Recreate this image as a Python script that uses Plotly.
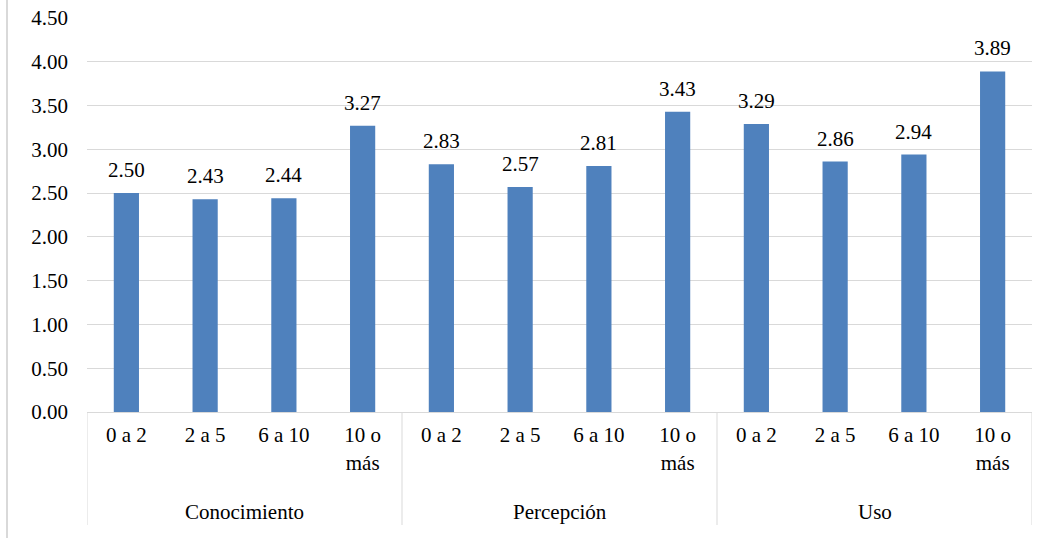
import plotly.graph_objects as go

groups = ["Conocimiento", "Percepción", "Uso"]
ranges = ["0 a 2", "2 a 5", "6 a 10", "10 o<br>más"]
values = [2.50, 2.43, 2.44, 3.27, 2.83, 2.57, 2.81, 3.43, 3.29, 2.86, 2.94, 3.89]
y_ticks = [0, 0.5, 1.0, 1.5, 2.0, 2.5, 3.0, 3.5, 4.0, 4.5]

FONT = "'Liberation Serif', 'DejaVu Serif', serif"
GRID = "#d9d9d9"
FS = 21

n_per = len(ranges)
xpos = list(range(len(values)))
tick_text = ranges * len(groups)

# plot-area geometry in pixels (for placing elements below the axis)
H_PLOT = 394
B_MARG = 126

def py(px_below_axis):
    """paper y for a point px_below_axis pixels under the x axis"""
    return -px_below_axis / H_PLOT

fig = go.Figure()
fig.add_trace(go.Bar(
    x=xpos, y=values,
    marker=dict(color="#4f81bd", line=dict(width=0)),
    width=0.32, hoverinfo="skip",
))

for i, v in enumerate(values):
    fig.add_annotation(
        x=i, y=v, text=f"{v:.2f}", showarrow=False,
        yanchor="bottom", yshift=9,
        font=dict(family=FONT, size=FS, color="#000000"),
    )

shapes = []
# group dividers under the axis
for g in range(len(groups) + 1):
    xb = g * n_per - 0.5
    shapes.append(dict(type="line", xref="x", yref="paper",
                       x0=xb, x1=xb, y0=0, y1=py(113),
                       line=dict(color=GRID, width=1)))
# group labels
for g, name in enumerate(groups):
    fig.add_annotation(
        x=g * n_per + (n_per - 1) / 2, y=py(100), xref="x", yref="paper",
        text=name, showarrow=False, yanchor="middle",
        font=dict(family=FONT, size=FS, color="#000000"),
    )
# outer border on the left edge of the chart
shapes.append(dict(type="line", xref="paper", yref="paper",
                   x0=-80 / 945, x1=-80 / 945, y0=py(B_MARG), y1=1 + 18 / H_PLOT,
                   line=dict(color=GRID, width=2)))

fig.update_layout(
    width=1055, height=538,
    margin=dict(l=87, r=23, t=18, b=B_MARG, autoexpand=False),
    paper_bgcolor="white", plot_bgcolor="white",
    showlegend=False,
    font=dict(family=FONT, size=FS, color="#000000"),
    shapes=shapes,
)
fig.update_xaxes(
    range=[-0.5, len(values) - 0.5],
    tickvals=xpos, ticktext=tick_text,
    showline=True, linecolor=GRID, linewidth=1,
    ticks="", showgrid=False, zeroline=False,
    ticklabelstandoff=4, automargin=False,
    tickfont=dict(family=FONT, size=FS, color="#000000"),
)
fig.update_yaxes(
    range=[0, 4.5], tickvals=y_ticks,
    ticktext=[f"{t:.2f}" for t in y_ticks],
    showgrid=True, gridcolor=GRID, gridwidth=1,
    zeroline=False, showline=False, ticks="",
    ticklabelstandoff=18, automargin=False,
    tickfont=dict(family=FONT, size=FS, color="#000000"),
)

fig.write_html("out.html")
